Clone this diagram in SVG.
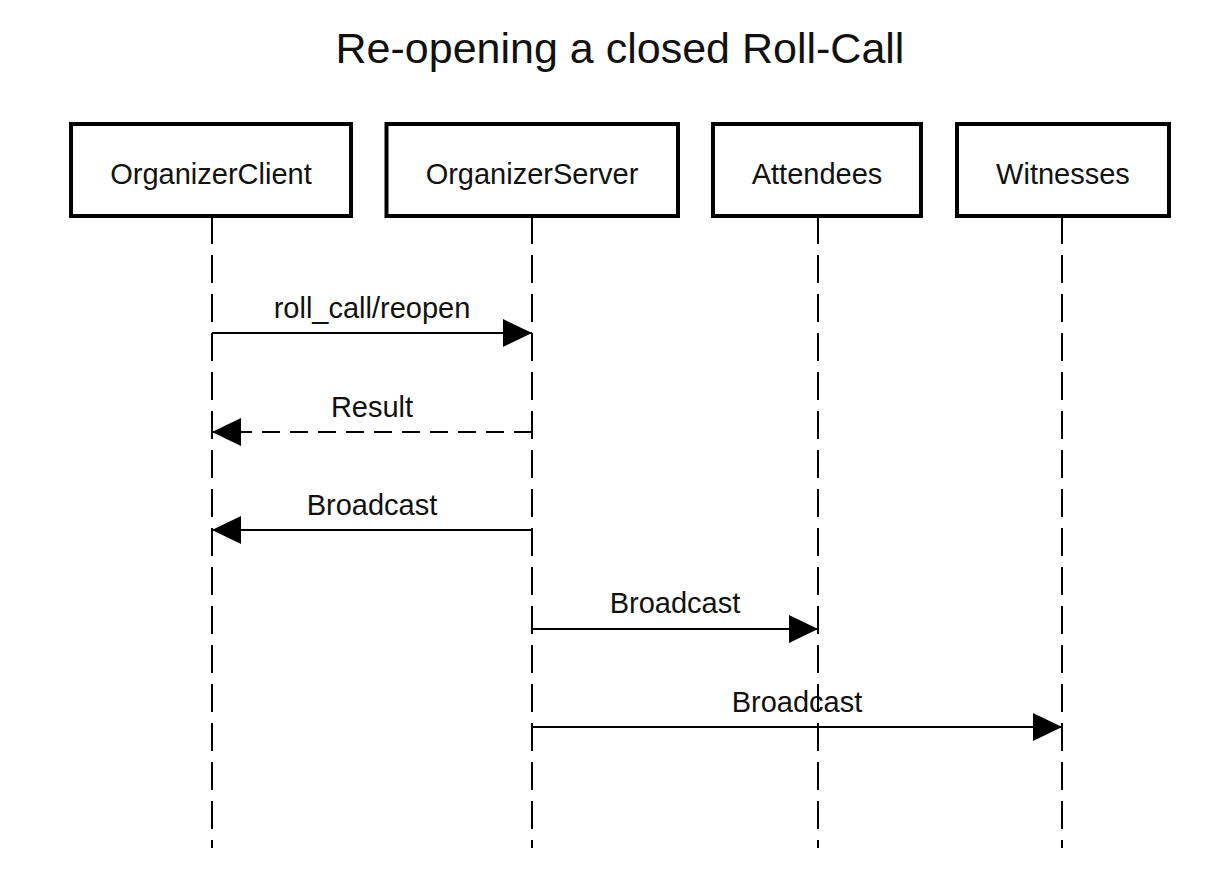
<svg xmlns="http://www.w3.org/2000/svg" width="1228" height="892" viewBox="0 0 1228 892">
  <style>
    .box { fill: #ffffff; stroke: #000000; stroke-width: 4; }
    .life { stroke: #000000; stroke-width: 2; stroke-dasharray: 28 11; fill: none; }
    .msg { stroke: #000000; stroke-width: 2; fill: none; }
    .dash { stroke-dasharray: 18 10; }
    .lbl { font-family: "Liberation Sans", Arial, sans-serif; font-size: 29px; fill: #111111; text-anchor: middle; }
    .title { font-family: "Liberation Sans", Arial, sans-serif; font-size: 43px; fill: #111111; text-anchor: middle; }
  </style>
  <defs>
    <marker id="arrow" markerUnits="userSpaceOnUse" markerWidth="29" markerHeight="28" viewBox="0 0 29 28" refX="29" refY="14" orient="auto">
      <path d="M0,0 L29,14 L0,28 Z" fill="#000000"/>
    </marker>
  </defs>
  <rect width="1228" height="892" fill="#ffffff"/>
  <text class="title" x="620" y="63">Re-opening a closed Roll-Call</text>

  <g id="lifelines">
    <line class="life" x1="212" y1="216" x2="212" y2="848"/>
    <line class="life" x1="532" y1="216" x2="532" y2="848"/>
    <line class="life" x1="818" y1="216" x2="818" y2="848"/>
    <line class="life" x1="1062" y1="216" x2="1062" y2="848"/>
  </g>

  <g id="OrganizerClient">
    <rect class="box" x="71" y="124" width="280" height="92"/>
    <text class="lbl" x="211" y="184">OrganizerClient</text>
  </g>
  <g id="OrganizerServer">
    <rect class="box" x="386.5" y="124" width="291.5" height="92"/>
    <text class="lbl" x="532" y="184">OrganizerServer</text>
  </g>
  <g id="Attendees">
    <rect class="box" x="713" y="124" width="208" height="92"/>
    <text class="lbl" x="817" y="184">Attendees</text>
  </g>
  <g id="Witnesses">
    <rect class="box" x="957" y="124" width="212" height="92"/>
    <text class="lbl" x="1063" y="184">Witnesses</text>
  </g>

  <g id="connectors">
    <line class="msg" x1="212" y1="333" x2="532" y2="333" marker-end="url(#arrow)"/>
    <text class="lbl" x="372" y="318">roll_call/reopen</text>
    <line class="msg dash" x1="532" y1="432" x2="212" y2="432" marker-end="url(#arrow)"/>
    <text class="lbl" x="372" y="417">Result</text>
    <line class="msg" x1="532" y1="530" x2="212" y2="530" marker-end="url(#arrow)"/>
    <text class="lbl" x="372" y="515">Broadcast</text>
    <line class="msg" x1="532" y1="629" x2="818" y2="629" marker-end="url(#arrow)"/>
    <text class="lbl" x="675" y="613">Broadcast</text>
    <line class="msg" x1="532" y1="727" x2="1062" y2="727" marker-end="url(#arrow)"/>
    <text class="lbl" x="797" y="712">Broadcast</text>
  </g>
</svg>
